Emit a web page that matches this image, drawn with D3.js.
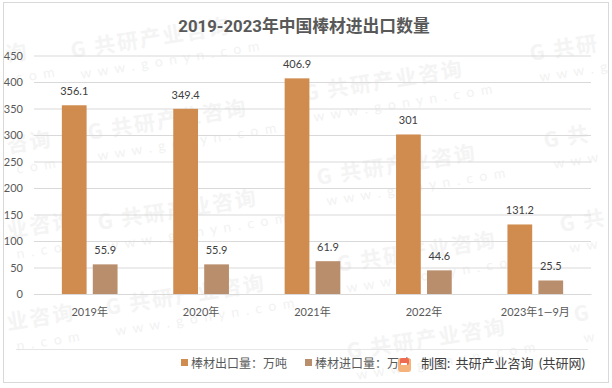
<!DOCTYPE html>
<html>
<head>
<meta charset="utf-8">
<script src="https://cdn.jsdelivr.net/npm/d3@7"></script>
<style>
html, body { margin: 0; padding: 0; background: #fff; }
text { font-family: Lato, "Noto Sans CJK SC", sans-serif; }
</style>
</head>
<body>
<div id="chart"></div>
<script>
// Datos del gráfico
var categorias = ["2019年", "2020年", "2021年", "2022年", "2023年1—9月"];
var series = ["棒材出口量：万吨", "棒材进口量：万吨"];
var exportacion = [356.1, 349.4, 406.9, 301, 131.2];
var importacion = [55.9, 55.9, 61.9, 44.6, 25.5];
var ticks = [0, 50, 100, 150, 200, 250, 300, 350, 400, 450];
var colores = ["#d08c4f", "#b98e6d"];

// Marca de agua: x, y, texto, línea inferior
var completo = "G 共研产业咨询", web = "w w w . g o n y n . c o m";
var marcas = [
    [7, 62, "询", "c o m"],
    [8, 153, "咨询", "c o m"],
    [8, 238, "业咨询", "n . c o m"],
    [8, 330, "业咨询", "n . c o m"],
    [72, 58, completo, web],
    [89, 140, completo, web],
    [99, 230, completo, web],
    [107, 315, completo, web],
    [305, 101, completo, web],
    [318, 185, completo, web],
    [338, 272, completo, web],
    [348, 359, completo, web],
    [531, 61, "G 共研", "w w w . g"],
    [545, 148, "G 共", "w w w"],
    [561, 232, "G 共", "w w"],
    [575, 322, "G", "w"]
];

var width = 612, height = 388;
var margin = {top: 55.5, right: 21, bottom: 94, left: 34};

var svg = d3.select("#chart").append("svg")
    .attr("width", width)
    .attr("height", height)
    .style("display", "block");

svg.append("rect")
    .attr("x", 3.5).attr("y", 2.5)
    .attr("width", 605).attr("height", 380)
    .attr("fill", "#fff")
    .attr("stroke", "#d9d9d9");

var wm = svg.append("g").selectAll("g").data(marcas).enter().append("g")
    .attr("transform", function(d) { return "translate(" + d[0] + "," + d[1] + ") rotate(-9)"; });
wm.append("text")
    .text(function(d) { return d[2]; })
    .attr("font-size", 21)
    .attr("font-weight", 700)
    .attr("letter-spacing", 2)
    .style("font-family", '"Noto Sans CJK SC"')
    .attr("fill", "#f4f4f4");
wm.append("text")
    .text(function(d) { return d[3]; })
    .attr("x", 6).attr("y", 22)
    .attr("font-size", 14)
    .attr("letter-spacing", 1.5)
    .attr("fill", "#f2f2f2");

var x0 = d3.scaleBand().domain(categorias).range([margin.left, width - margin.right]);
var x1 = d3.scaleBand().domain(series).range([x0.bandwidth() * 0.25, x0.bandwidth() * 0.75]).paddingInner(0.2);
var y = d3.scaleLinear().domain([0, 450]).range([height - margin.bottom, margin.top]);

// Eje Y y rejilla
var ejeY = svg.append("g")
    .attr("transform", "translate(" + margin.left + ",0)")
    .call(d3.axisLeft(y).tickValues(ticks).tickSize(0).tickPadding(11)
        .tickFormat(d3.format("d")));
ejeY.select(".domain").remove();
ejeY.selectAll("line")
    .attr("x2", width - margin.left - margin.right)
    .attr("stroke", "#d9d9d9");
ejeY.selectAll("text")
    .attr("font-size", 11)
    .attr("fill", "#595959")
    .style("font-family", 'Lato, "Noto Sans CJK SC"');

// Eje X
var ejeX = svg.append("g")
    .attr("transform", "translate(0," + (height - margin.bottom) + ")")
    .call(d3.axisBottom(x0).tickSize(0).tickPadding(14));
ejeX.select(".domain").attr("stroke", "#d9d9d9");
ejeX.selectAll("text")
    .attr("font-size", 11)
    .attr("fill", "#595959")
    .style("font-family", 'Lato, "Noto Sans CJK SC"');

// Barras
var valores = [exportacion, importacion];
var grupos = svg.selectAll(".serie").data(series).enter().append("g").attr("class", "serie");
grupos.each(function(s, i) {
    var g = d3.select(this);
    g.selectAll("rect").data(valores[i]).enter().append("rect")
        .attr("x", function(d, j) { return x0(categorias[j]) + x1(s); })
        .attr("y", function(d) { return y(d); })
        .attr("width", x1.bandwidth())
        .attr("height", function(d) { return y(0) - y(d); })
        .attr("fill", colores[i]);
    g.selectAll("text").data(valores[i]).enter().append("text")
        .text(function(d) { return d; })
        .attr("x", function(d, j) { return x0(categorias[j]) + x1(s) + x1.bandwidth() / 2; })
        .attr("y", function(d) { return y(d) - 10; })
        .attr("text-anchor", "middle")
        .attr("font-size", 11)
        .attr("fill", "#404040");
});

// Título
svg.append("text")
    .text("2019-2023年中国棒材进出口数量")
    .attr("x", 304).attr("y", 32)
    .attr("text-anchor", "middle")
    .attr("font-size", 16.8)
    .attr("font-weight", 700)
    .style("font-family", 'Roboto, "Noto Sans CJK SC"')
    .attr("fill", "#595959");

// Leyenda
svg.append("line")
    .attr("x1", 16).attr("x2", 588)
    .attr("y1", 349.5).attr("y2", 349.5)
    .attr("stroke", "#e6e6e6");

var leyendaX = [181, 305];
var leyenda = svg.selectAll(".leyenda").data(series).enter().append("g")
    .attr("class", "leyenda")
    .attr("transform", function(d, i) { return "translate(" + leyendaX[i] + ",0)"; });
leyenda.append("rect")
    .attr("y", 359).attr("width", 7).attr("height", 7)
    .attr("fill", function(d, i) { return colores[i]; });
leyenda.append("text")
    .text(function(d) { return d; })
    .attr("x", 10).attr("y", 368)
    .attr("font-size", 12)
    .attr("fill", "#595959");

// Logo pequeño y crédito
var logo = svg.append("g").attr("transform", "translate(398,358)");
logo.append("rect").attr("width", 13).attr("height", 14).attr("rx", 3).attr("fill", "#f5b27a");
logo.append("rect").attr("x", 2).attr("width", 9).attr("height", 7).attr("rx", 2).attr("fill", "#ee6a50");
logo.append("rect").attr("x", 3).attr("y", 5).attr("width", 6).attr("height", 2).attr("fill", "#fff");

svg.append("text")
    .text("制图: 共研产业咨询 (共研网)")
    .attr("x", 421).attr("y", 368)
    .attr("font-size", 13)
    .attr("word-spacing", 2)
    .attr("fill", "#404040");
</script>
</body>
</html>
